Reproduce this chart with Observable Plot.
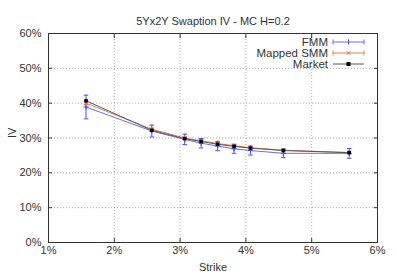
<!DOCTYPE html>
<html>
<head>
<meta charset="utf-8">
<script src="https://cdn.jsdelivr.net/npm/d3@7"></script>
<script src="https://cdn.jsdelivr.net/npm/@observablehq/plot@0.6"></script>
<style>
  html, body { margin: 0; padding: 0; background: #fff; }
  #wrap { position: relative; width: 397px; height: 278px; font-family: "Liberation Sans", Arial, sans-serif; }
  #legend { position: absolute; left: 0; top: 0; width: 397px; height: 278px; pointer-events: none; }
</style>
</head>
<body>
<div id="wrap"></div>
<script>
const title = "5Yx2Y Swaption IV - MC H=0.2";
const strikes = [1.57, 2.57, 3.07, 3.32, 3.57, 3.82, 4.07, 4.57, 5.57];
const market  = [40.7, 32.2, 29.8, 29.0, 28.2, 27.6, 27.1, 26.4, 25.8];
const smm     = [40.0, 32.5, 30.0, 29.2, 28.4, 27.8, 27.2, 26.5, 25.8];
const smmErr  = [0.4, 0.3, 0.25, 0.25, 0.25, 0.2, 0.2, 0.2, 0.2];
const fmm     = [38.9, 32.0, 29.6, 28.5, 27.7, 26.9, 26.4, 25.6, 25.6];
const fmmErr  = [3.4, 1.7, 1.5, 1.35, 1.35, 1.3, 1.3, 1.25, 1.4];
const seriesNames = ["FMM", "Mapped SMM", "Market"];
const xTicks = [1, 2, 3, 4, 5, 6];
const yTicks = [0, 10, 20, 30, 40, 50, 60];

const colors = { "FMM": "#4a4aff", "Mapped SMM": "#e0734a", "Market": "#000000" };
const lineColors = { "FMM": "#6a6aff", "Mapped SMM": "#e0804f", "Market": "#555555" };

const fmmData = strikes.map((k, i) => ({ k, v: fmm[i], lo: fmm[i] - fmmErr[i], hi: fmm[i] + fmmErr[i] }));
const smmData = strikes.map((k, i) => ({ k, v: smm[i], lo: smm[i] - smmErr[i], hi: smm[i] + smmErr[i] }));
const mktData = strikes.map((k, i) => ({ k, v: market[i] }));

const capSymbol = {
  draw(context, size) {
    const w = Math.sqrt(size) / 2;
    context.moveTo(-w, 0);
    context.lineTo(w, 0);
  }
};

const fontFamily = "'Liberation Sans', Arial, sans-serif";
const textColor = "#333";

const chart = Plot.plot({
  width: 397,
  height: 278,
  marginLeft: 48,
  marginRight: 20,
  marginTop: 33,
  marginBottom: 36,
  style: { fontFamily, fontSize: "11px", color: textColor, background: "#fff" },
  x: { domain: [1, 6], ticks: xTicks, tickFormat: d => d + "%" },
  y: { domain: [0, 60], ticks: yTicks, tickFormat: d => d + "%" },
  marks: [
    Plot.gridX(xTicks, { stroke: "#999", strokeOpacity: 0.8, strokeDasharray: "1,2" }),
    Plot.gridY(yTicks, { stroke: "#999", strokeOpacity: 0.8, strokeDasharray: "1,2" }),
    Plot.axisX(xTicks, { anchor: "bottom", tickSize: -4, tickPadding: 8, tickFormat: d => d + "%", label: null, fontSize: 11 }),
    Plot.axisX(xTicks, { anchor: "top", tickSize: -4, tickFormat: () => "", label: null }),
    Plot.axisY(yTicks, { anchor: "left", tickSize: -4, tickPadding: 11, tickFormat: d => d + "%", label: null, fontSize: 11 }),
    Plot.axisY(yTicks, { anchor: "right", tickSize: -4, tickFormat: () => "", label: null }),
    Plot.text(["Strike"], { frameAnchor: "bottom", dy: 28, fontSize: 11, fill: textColor }),
    Plot.text(["IV"], { frameAnchor: "left", dx: -36, rotate: -90, fontSize: 11, fill: textColor }),
    Plot.text([title], { frameAnchor: "top", dy: -16, fontSize: 11, fill: textColor }),
    // FMM
    Plot.ruleX(fmmData, { x: "k", y1: "lo", y2: "hi", stroke: colors["FMM"], strokeWidth: 1 }),
    Plot.dot(fmmData, { x: "k", y: "lo", symbol: capSymbol, r: 2.6, stroke: colors["FMM"], strokeWidth: 1 }),
    Plot.dot(fmmData, { x: "k", y: "hi", symbol: capSymbol, r: 2.6, stroke: colors["FMM"], strokeWidth: 1 }),
    Plot.line(fmmData, { x: "k", y: "v", stroke: lineColors["FMM"], strokeWidth: 1 }),
    Plot.dot(fmmData, { x: "k", y: "v", symbol: "plus", r: 1.8, stroke: colors["FMM"], strokeWidth: 1 }),
    // Mapped SMM
    Plot.ruleX(smmData, { x: "k", y1: "lo", y2: "hi", stroke: colors["Mapped SMM"], strokeWidth: 1 }),
    Plot.dot(smmData, { x: "k", y: "lo", symbol: capSymbol, r: 2.6, stroke: colors["Mapped SMM"], strokeWidth: 1 }),
    Plot.dot(smmData, { x: "k", y: "hi", symbol: capSymbol, r: 2.6, stroke: colors["Mapped SMM"], strokeWidth: 1 }),
    Plot.line(smmData, { x: "k", y: "v", stroke: lineColors["Mapped SMM"], strokeWidth: 1 }),
    Plot.dot(smmData, { x: "k", y: "v", symbol: "times", r: 1.8, stroke: colors["Mapped SMM"], strokeWidth: 1 }),
    // Market
    Plot.line(mktData, { x: "k", y: "v", stroke: lineColors["Market"], strokeWidth: 1 }),
    Plot.dot(mktData, { x: "k", y: "v", symbol: "square", r: 2.0, fill: colors["Market"], stroke: "none" }),
    Plot.frame({ stroke: "#333", strokeWidth: 1 })
  ]
});

const wrap = document.getElementById("wrap");
wrap.appendChild(chart);

// Legend overlay (gnuplot style, inside top-right of the plot)
const ns = "http://www.w3.org/2000/svg";
const leg = document.createElementNS(ns, "svg");
leg.setAttribute("id", "legend");
leg.setAttribute("width", 397);
leg.setAttribute("height", 278);
const rowY = [42, 53, 64];
const textRight = 328, sx1 = 333, sx2 = 364, sxm = (sx1 + sx2) / 2;
seriesNames.forEach((name, i) => {
  const y = rowY[i];
  const t = document.createElementNS(ns, "text");
  t.setAttribute("x", textRight);
  t.setAttribute("y", y);
  t.setAttribute("dy", "0.35em");
  t.setAttribute("text-anchor", "end");
  t.setAttribute("font-family", fontFamily);
  t.setAttribute("font-size", "11.5");
  t.setAttribute("fill", textColor);
  t.textContent = name;
  leg.appendChild(t);
  const c = name === "Market" ? lineColors[name] : lineColors[name];
  const l = document.createElementNS(ns, "line");
  l.setAttribute("x1", sx1); l.setAttribute("x2", sx2);
  l.setAttribute("y1", y); l.setAttribute("y2", y);
  l.setAttribute("stroke", c); l.setAttribute("stroke-width", 1);
  leg.appendChild(l);
  if (name !== "Market") {
    [sx1, sx2].forEach(x => {
      const cap = document.createElementNS(ns, "line");
      cap.setAttribute("x1", x); cap.setAttribute("x2", x);
      cap.setAttribute("y1", y - 2.5); cap.setAttribute("y2", y + 2.5);
      cap.setAttribute("stroke", c); cap.setAttribute("stroke-width", 1);
      leg.appendChild(cap);
    });
  }
  const sym = document.createElementNS(ns, "path");
  let d;
  if (name === "FMM") d = `M${sxm},${y - 2.5}V${y + 2.5}`;
  else if (name === "Mapped SMM") d = `M${sxm - 1.8},${y - 1.8}L${sxm + 1.8},${y + 1.8}M${sxm - 1.8},${y + 1.8}L${sxm + 1.8},${y - 1.8}`;
  else d = `M${sxm - 2},${y - 2}h4v4h-4z`;
  sym.setAttribute("d", d);
  if (name === "Market") { sym.setAttribute("fill", "#000"); }
  else { sym.setAttribute("fill", "none"); sym.setAttribute("stroke", colors[name]); sym.setAttribute("stroke-width", 1); }
  leg.appendChild(sym);
});
wrap.appendChild(leg);
</script>
</body>
</html>
